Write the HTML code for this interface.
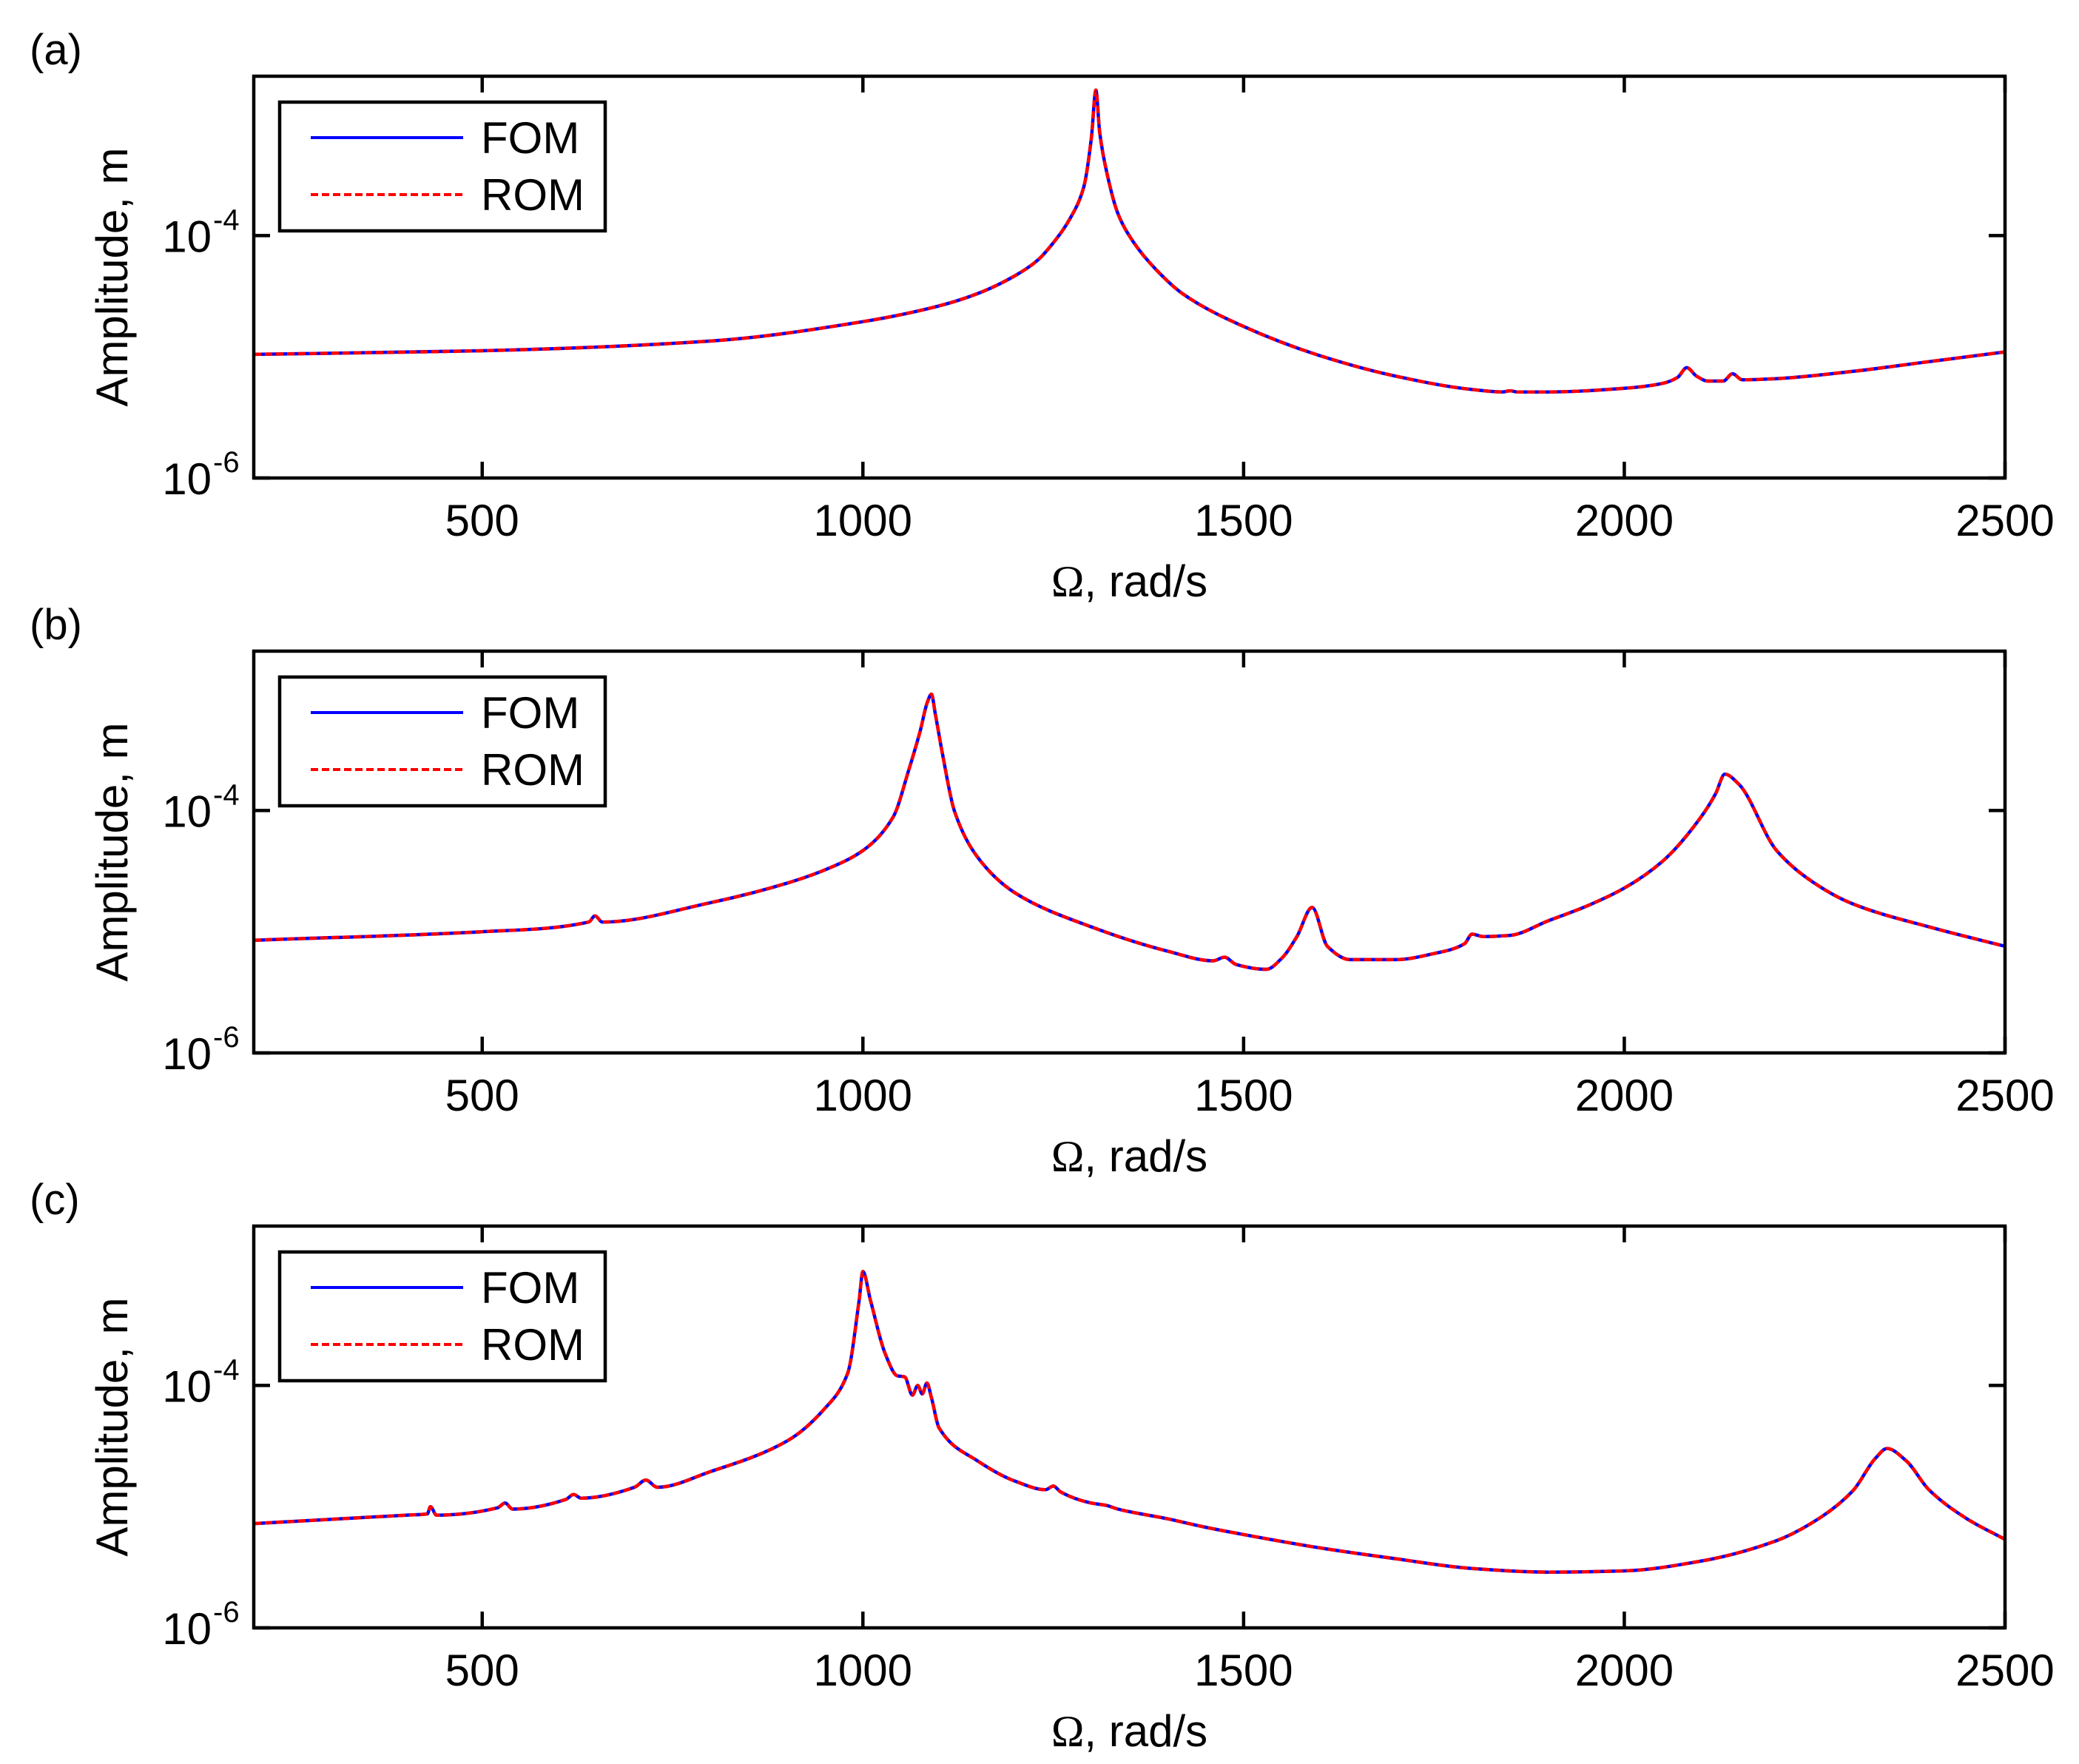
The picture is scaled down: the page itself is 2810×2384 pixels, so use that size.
<!DOCTYPE html>
<html><head><meta charset="utf-8"><title>FOM vs ROM amplitude</title>
<style>
html,body{margin:0;padding:0;background:#fff;}
svg{display:block;font-family:"Liberation Sans",Arial,sans-serif;}
</style></head>
<body>
<svg id="fig" width="2810" height="2384" viewBox="0 0 2810 2384" xmlns="http://www.w3.org/2000/svg"></svg>
<script>
// ---- data (omega in rad/s, log10 amplitude in m) ----
const xTicks = [500, 1000, 1500, 2000, 2500];
const panelLabels = ["(a)", "(b)", "(c)"];
const seriesNames = ["FOM", "ROM"];

const omegaA = [200,500,800,1000,1100,1150,1200,1230,1250,1272,1290,1300,1306,1311,1321,1335,1355,1385,1420,1500,1600,1700,1800,1840,1850,1860,1900,2000,2050,2070,2082,2095,2110,2130,2142,2155,2200,2300,2400,2500];
const fomA = [-4.98,-4.95,-4.87,-4.71,-4.58,-4.48,-4.33,-4.2,-4.06,-3.86,-3.6,-3.2,-2.8,-3.15,-3.5,-3.82,-4.05,-4.28,-4.48,-4.75,-4.99,-5.16,-5.27,-5.29,-5.28,-5.29,-5.29,-5.26,-5.22,-5.17,-5.09,-5.16,-5.2,-5.2,-5.14,-5.19,-5.18,-5.12,-5.04,-4.96];
const romA = [-4.98,-4.95,-4.87,-4.71,-4.58,-4.48,-4.33,-4.2,-4.06,-3.86,-3.6,-3.2,-2.8,-3.15,-3.5,-3.82,-4.05,-4.28,-4.48,-4.75,-4.99,-5.16,-5.27,-5.29,-5.28,-5.29,-5.29,-5.26,-5.22,-5.17,-5.09,-5.16,-5.2,-5.2,-5.14,-5.19,-5.18,-5.12,-5.04,-4.96];

const omegaB = [200,500,640,648,658,800,900,950,1000,1040,1060,1075,1085,1090,1095,1105,1120,1150,1200,1300,1400,1460,1475,1490,1530,1550,1570,1590,1610,1640,1700,1750,1790,1800,1815,1850,1900,1950,2000,2050,2100,2120,2132,2150,2200,2250,2300,2400,2500];
const fomB = [-5.07,-5.0,-4.92,-4.87,-4.92,-4.76,-4.6,-4.49,-4.33,-4.05,-3.67,-3.35,-3.1,-3.04,-3.2,-3.55,-4.0,-4.38,-4.68,-4.96,-5.16,-5.24,-5.21,-5.27,-5.31,-5.22,-5.04,-4.8,-5.12,-5.23,-5.23,-5.18,-5.1,-5.02,-5.04,-5.03,-4.91,-4.79,-4.64,-4.42,-4.06,-3.86,-3.7,-3.78,-4.33,-4.6,-4.77,-4.96,-5.12];
const romB = [-5.07,-5.0,-4.92,-4.87,-4.92,-4.76,-4.6,-4.49,-4.33,-4.05,-3.67,-3.35,-3.1,-3.04,-3.2,-3.55,-4.0,-4.38,-4.68,-4.96,-5.16,-5.24,-5.21,-5.27,-5.31,-5.22,-5.04,-4.8,-5.12,-5.23,-5.23,-5.18,-5.1,-5.02,-5.04,-5.03,-4.91,-4.79,-4.64,-4.42,-4.06,-3.86,-3.7,-3.78,-4.33,-4.6,-4.77,-4.96,-5.12];

const omegaC = [200,400,428,432,440,520,530,540,610,620,630,700,715,730,800,900,950,980,995,1000,1010,1030,1045,1055,1065,1072,1078,1084,1090,1100,1150,1200,1240,1250,1260,1300,1320,1335,1400,1450,1500,1600,1700,1800,1900,2000,2100,2200,2250,2300,2330,2345,2370,2400,2450,2500];
const fomC = [-5.14,-5.07,-5.06,-5.0,-5.07,-5.01,-4.97,-5.02,-4.94,-4.9,-4.93,-4.84,-4.78,-4.84,-4.71,-4.46,-4.19,-3.9,-3.3,-3.06,-3.3,-3.75,-3.92,-3.93,-4.08,-4.0,-4.07,-3.98,-4.1,-4.35,-4.62,-4.79,-4.86,-4.83,-4.88,-4.97,-4.99,-5.02,-5.1,-5.17,-5.23,-5.34,-5.43,-5.51,-5.54,-5.53,-5.45,-5.28,-5.12,-4.87,-4.6,-4.52,-4.62,-4.86,-5.1,-5.27];
const romC = [-5.14,-5.07,-5.06,-5.0,-5.07,-5.01,-4.97,-5.02,-4.94,-4.9,-4.93,-4.84,-4.78,-4.84,-4.71,-4.46,-4.19,-3.9,-3.3,-3.06,-3.3,-3.75,-3.92,-3.93,-4.08,-4.0,-4.07,-3.98,-4.1,-4.35,-4.62,-4.79,-4.86,-4.83,-4.88,-4.97,-4.99,-5.02,-5.1,-5.17,-5.23,-5.34,-5.43,-5.51,-5.54,-5.53,-5.45,-5.28,-5.12,-4.87,-4.6,-4.52,-4.62,-4.86,-5.1,-5.27];

const panelsData = [
  {label: panelLabels[0], omega: omegaA, fom: fomA, rom: romA},
  {label: panelLabels[1], omega: omegaB, fom: fomB, rom: romB},
  {label: panelLabels[2], omega: omegaC, fom: fomC, rom: romC}
];

// ---- layout ----
const NS = "http://www.w3.org/2000/svg";
const svg = document.getElementById("fig");
const L = 343, R = 2710, H = 543;
const tops = [103, 880, 1657];
const XMIN = 200, XMAX = 2500, LOGMIN = -6, LOGMAX = -2.685;

function mk(tag, attrs, parent) {
  const e = document.createElementNS(NS, tag);
  for (const k in attrs) e.setAttribute(k, attrs[k]);
  (parent || svg).appendChild(e);
  return e;
}

// monotone cubic (Fritsch-Carlson) path through pixel points
function monotonePath(xs, ys) {
  const n = xs.length;
  const d = [], m = new Array(n);
  for (let i = 0; i < n - 1; i++) d.push((ys[i + 1] - ys[i]) / (xs[i + 1] - xs[i]));
  m[0] = d[0]; m[n - 1] = d[n - 2];
  for (let i = 1; i < n - 1; i++) {
    if (d[i - 1] * d[i] <= 0) m[i] = 0;
    else {
      const w1 = 2 * (xs[i + 1] - xs[i]) + (xs[i] - xs[i - 1]);
      const w2 = (xs[i + 1] - xs[i]) + 2 * (xs[i] - xs[i - 1]);
      m[i] = (w1 + w2) / (w1 / d[i - 1] + w2 / d[i]);
    }
  }
  let s = "M" + xs[0].toFixed(1) + "," + ys[0].toFixed(1);
  for (let i = 0; i < n - 1; i++) {
    const h = (xs[i + 1] - xs[i]) / 3;
    s += " C" + (xs[i] + h).toFixed(1) + "," + (ys[i] + m[i] * h).toFixed(1) + " " +
      (xs[i + 1] - h).toFixed(1) + "," + (ys[i + 1] - m[i + 1] * h).toFixed(1) + " " +
      xs[i + 1].toFixed(1) + "," + ys[i + 1].toFixed(1);
  }
  return s;
}

panelsData.forEach((p, i) => {
  const T = tops[i], B = T + H;
  const sx = v => L + (v - XMIN) / (XMAX - XMIN) * (R - L);
  const sy = lg => B - (lg - LOGMIN) / (LOGMAX - LOGMIN) * H;
  const g = mk("g", {});
  
  

  const pl = mk("text", {x: 40, y: T - 16, "font-size": 58}, g);
  pl.textContent = p.label;
  
  

  const clip = mk("clipPath", {id: "clip" + i}, g);
  mk("rect", {x: L, y: T, width: R - L, height: H}, clip);
  const xs = p.omega.map(sx);
  const fom = mk("path", {d: monotonePath(xs, p.fom.map(sy)), fill: "none", stroke: "#0000ff", "stroke-width": 4.5, "stroke-linejoin": "round", "clip-path": "url(#clip" + i + ")"}, g);
  
  
  const rom = mk("path", {d: monotonePath(xs, p.rom.map(sy)), fill: "none", stroke: "#ff0000", "stroke-width": 4.5, "stroke-dasharray": "10,5", "stroke-linejoin": "round", "clip-path": "url(#clip" + i + ")"}, g);
  
  

  const box = mk("rect", {x: L, y: T, width: R - L, height: H, fill: "none", stroke: "#000", "stroke-width": 4.5}, g);
  
  

  xTicks.forEach(t => {
    const x = sx(t);
    mk("line", {x1: x, y1: B, x2: x, y2: B - 22, stroke: "#000", "stroke-width": 4.5}, g);
    mk("line", {x1: x, y1: T, x2: x, y2: T + 22, stroke: "#000", "stroke-width": 4.5}, g);
    const tl = mk("text", {x: x, y: B + 78, "font-size": 60, "text-anchor": "middle"}, g);
    tl.textContent = t;
    
    
  });

  [-6, -4].forEach(e => {
    const y = sy(e);
    mk("line", {x1: L, y1: y, x2: L + 22, y2: y, stroke: "#000", "stroke-width": 4.5}, g);
    mk("line", {x1: R, y1: y, x2: R - 22, y2: y, stroke: "#000", "stroke-width": 4.5}, g);
    const tl = mk("text", {x: 286, y: y + 22, "font-size": 60, "text-anchor": "end"}, g);
    tl.textContent = "10";
    
    
    const sup = mk("text", {x: 288, y: y - 8, "font-size": 40, "text-anchor": "start"}, g);
    sup.textContent = String(e);
    
    
  });

  const xl = mk("text", {x: (L + R) / 2, y: B + 160, "font-size": 60, "text-anchor": "middle"}, g);
  xl.innerHTML = '<tspan font-family="Liberation Serif, serif">Ω</tspan>, rad/s';
  
  
  const yl = mk("text", {x: 0, y: 0, "font-size": 60, "text-anchor": "middle", transform: "translate(172," + (T + H / 2) + ") rotate(-90)"}, g);
  yl.textContent = "Amplitude, m";
  
  

  const lg = mk("g", {}, g);
  
  
  const lx = 378, ly = T + 35;
  mk("rect", {x: lx, y: ly, width: 440, height: 174, fill: "#fff", stroke: "#000", "stroke-width": 4.5}, lg);
  seriesNames.forEach((nm, k) => {
    const yy = ly + 48 + k * 77;
    const ln = mk("line", {x1: 420, y1: yy, x2: 626, y2: yy, stroke: k ? "#ff0000" : "#0000ff", "stroke-width": 4, "stroke-dasharray": k ? "10,5" : "none"}, lg);
    
    
    const tx = mk("text", {x: 650, y: yy + 21, "font-size": 60}, lg);
    tx.textContent = nm;
    
    
  });
});
</script>
</body></html>
